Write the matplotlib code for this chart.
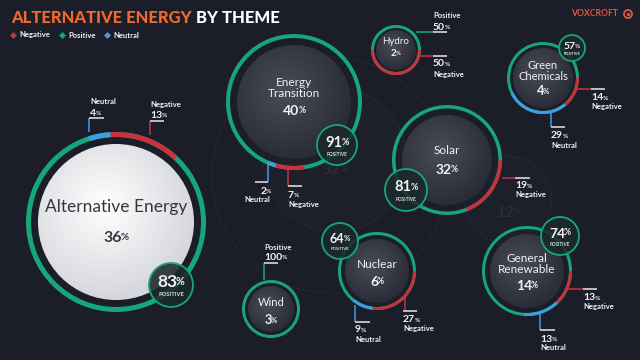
import numpy as np
import matplotlib.pyplot as plt
from matplotlib.patches import Circle, Wedge
from matplotlib.colors import to_rgb

plt.rcParams['font.family'] = ['Lato', 'DejaVu Sans']

# data
themes = ['Alternative Energy', 'Energy Transition', 'Hydro', 'Green Chemicals',
          'Solar', 'General Renewable', 'Nuclear', 'Wind']
share = [36, 40, 2, 4, 32, 14, 6, 3]
positive = [83, 91, 50, 57, 81, 74, 64, 100]
negative = [13, 7, 50, 14, 19, 13, 27, 0]
neutral = [4, 2, 0, 29, 0, 13, 9, 0]
ghost_share = [32, 12]

bg = '#1b1e29'
green = '#16a679'
red = '#c9313d'
blue = '#3b9fe6'
white = '#f2f2f4'
orange = '#f26a2b'

# layout: cx, cy, ring radius, disc radius, ring width, neg start, neu start (deg clockwise from top)
layout = [
    (116, 222, 90, 78, 5.0, -4, -18),
    (294, 102, 68, 57, 4.0, 171, 196),
    (396, 50, 25, 20, 3.0, 90, 0),
    (543, 78, 36, 30, 3.0, 90, 140),
    (447, 160, 55, 45, 3.5, 90, 0),
    (527, 271, 45, 37, 3.0, 90, 137),
    (377, 271, 39, 32, 3.0, 90, 187),
    (271, 309, 29, 23, 3.0, 0, 0),
]
# name y, value y, name size, value size
text_pos = [
    (207, 238, 12.5, 11.5),
    (88, 111, 8.5, 10),
    (42, 53, 7, 7),
    (71, 91, 8, 9),
    (151, 170, 8.5, 10),
    (264, 286, 8.5, 10),
    (265, 282, 8.5, 10),
    (302, 320, 8, 9),
]
# badge x, y, r, fontsize
badges = [(171, 285, 22, 12.5), (337, 145, 20, 10.5), None, (572, 48, 13, 7.5),
          (406, 190, 21, 10.5), (560, 236, 19, 10), (340, 241, 18, 9), None]

# callouts: bubble index, kind, leader (x0,y0,x1,y1), underline (xa, xb), text x, value y, label y, ha
callouts = [
    (0, 'neu', (89, 132, 89, 118), (89, 104), 90, 113, 102, 'left'),
    (0, 'neg', (150, 135, 150, 121), (150, 164), 150, 115, 104, 'left'),
    (1, 'neu', (268, 163, 268, 182), (255, 268), 270, 191, 200, 'right'),
    (1, 'neg', (288, 170, 288, 186), (288, 302), 288, 195, 204, 'left'),
    (2, 'pos', (416, 32, 433, 32), (433, 447), 433, 27, 16, 'left'),
    (2, 'neg', (418, 56, 433, 56), (433, 447), 433, 64, 74, 'left'),
    (3, 'neg', (576, 89, 591, 89), (591, 605), 591, 98, 107, 'left'),
    (3, 'neu', (551, 113, 551, 127), (551, 565), 551, 136, 145, 'left'),
    (4, 'neg', (502, 178, 515, 178), (515, 530), 515, 186, 195, 'left'),
    (5, 'neg', (566, 289, 583, 289), (583, 597), 583, 298, 307, 'left'),
    (5, 'neu', (540, 314, 540, 330), (540, 555), 540, 339, 348, 'left'),
    (6, 'neg', (405, 296, 405, 311), (403, 417), 403, 320, 329, 'left'),
    (6, 'neu', (355, 305, 355, 322), (355, 370), 355, 330, 339, 'left'),
    (7, 'pos', (264, 280, 264, 263), (264, 278), 264, 257, 247, 'left'),
]

fig = plt.figure(figsize=(6.4, 3.6), dpi=100)
fig.patch.set_facecolor(bg)
ax = fig.add_axes([0, 0, 1, 1])
ax.set_facecolor(bg)


def pct(x, y, num, size, color, ha='center', z=6, alpha=1.0):
    shift = size * 0.3 if ha == 'center' else 0
    if ha == 'right':
        shift = size * 0.5
    t = ax.text(x - shift, y, str(num), fontsize=size, color=color, fontweight='bold',
                ha=ha, va='center', zorder=z, alpha=alpha)
    ax.annotate('%', xy=(1, 0.2), xycoords=t, xytext=(-size * 0.07, 0),
                textcoords='offset points', fontsize=size * 0.62, color=color,
                fontweight='bold', ha='left', va='bottom', zorder=z, alpha=alpha)
    return t


def disc(cx, cy, r, c_mid, c_edge, z=3):
    n = 80
    yy, xx = np.mgrid[-1:1:n * 1j, -1:1:n * 1j]
    d = np.clip(np.sqrt((xx + 0.15) ** 2 + (yy + 0.2) ** 2) / 1.2, 0, 1)[..., None]
    img = np.array(to_rgb(c_mid)) * (1 - d) + np.array(to_rgb(c_edge)) * d
    im = ax.imshow(img, extent=(cx - r, cx + r, cy + r, cy - r), zorder=z,
                   interpolation='bilinear')
    clip = Circle((cx, cy), r, transform=ax.transData)
    im.set_clip_path(clip)


def arc(cx, cy, r, w, a1, a2, color, z=3):
    ax.add_patch(Wedge((cx, cy), r, a1 - 90, a2 - 90, width=w, facecolor=color,
                       edgecolor='none', zorder=z))


# ghost bubbles in the background
for (gx, gy, gr, ty), g in zip([(335, 160, 72, 170), (508, 200, 44, 213)], ghost_share):
    ax.add_patch(Circle((gx, gy), gr, facecolor='#1d202b', edgecolor='#242734',
                        lw=0.9, zorder=1))
    pct(gx, ty, g, 11, '#292c3a', z=1.5)
ax.add_patch(Circle((330, 175), 118, facecolor='none', edgecolor='#232633', lw=0.8, zorder=1))

# bubbles
for i, name in enumerate(themes):
    cx, cy, rr, rd, w, neg0, neu0 = layout[i]
    ny, vy, ns, vs = text_pos[i]
    arc(cx, cy, rr, w, 0, 360, green)
    if negative[i]:
        arc(cx, cy, rr, w, neg0, neg0 + negative[i] * 3.6, red, z=3.2)
    if neutral[i]:
        arc(cx, cy, rr, w, neu0, neu0 + neutral[i] * 3.6, blue, z=3.2)
    if i == 0:
        disc(cx, cy, rd, '#ffffff', '#d6d7dc')
        ax.text(cx, ny, name, fontsize=ns, color='#34363f', ha='center', va='center',
                zorder=6)
        pct(cx, vy, share[i], vs, '#34363f')
    else:
        disc(cx, cy, rd, '#4a4c58', '#2a2c37')
        label = name if ' ' not in name else name.replace(' ', '\n')
        ax.text(cx, ny, label, fontsize=ns, color=white, ha='center', va='center',
                linespacing=0.95, zorder=6)
        pct(cx, vy, share[i], vs, white)

    b = badges[i]
    if b:
        bx, by, br, bs = b
        ax.add_patch(Circle((bx, by), br, facecolor='#1c2a2c', alpha=0.88,
                            edgecolor='none', zorder=5))
        ax.add_patch(Circle((bx, by), br, facecolor='none', edgecolor=green,
                            lw=1.3, zorder=5.1))
        pct(bx, by - br * 0.12, positive[i], bs, white, z=6)
        ax.text(bx, by + br * 0.45, 'POSITIVE', fontsize=max(bs * 0.33, 2.8),
                color='#dcdcdc', fontweight='bold', ha='center', va='center', zorder=6)

# callouts
kind_color = {'pos': green, 'neg': red, 'neu': blue}
kind_name = {'pos': 'Positive', 'neg': 'Negative', 'neu': 'Neutral'}
kind_vals = {'pos': positive, 'neg': negative, 'neu': neutral}
for i, kind, (x0, y0, x1, y1), (xa, xb), tx, vy, ly, ha in callouts:
    ax.plot([x0, x1], [y0, y1], color=kind_color[kind], lw=1.1, zorder=4,
            solid_capstyle='butt')
    ax.plot([xa, xb], [y1, y1], color='#d8d8d8', lw=1.2, zorder=4,
            solid_capstyle='butt')
    pct(tx, vy, kind_vals[kind][i], 7.5, white, ha=ha)
    ax.text(tx, ly, kind_name[kind], fontsize=5.5, color=white, fontweight='bold',
            ha=ha, va='center', zorder=6)

# title and legend
t1 = ax.text(11, 18, 'ALTERNATIVE ENERGY', fontsize=12, color=orange,
             fontweight='black', ha='left', va='center')
ax.annotate(' BY THEME', xy=(1, 0), xycoords=t1, fontsize=12, color='white',
            fontweight='black', ha='left', va='bottom')
for lx, lab, col in [(13, 'Negative', red), (62, 'Positive', green), (107, 'Neutral', blue)]:
    ax.plot(lx, 35, marker='D', ms=3.5, color=col, mec='none')
    ax.text(lx + 6, 35, lab, fontsize=5.5, color=white, ha='left', va='center',
            fontweight='bold')

ax.text(595, 14, 'VOXCROFT', fontsize=6.2, color='#e2553f', fontweight='bold',
        ha='center', va='center')
ax.add_patch(Circle((628, 14), 4, facecolor='none', edgecolor='#e2553f', lw=1.3))
ax.plot(628, 14, marker='o', ms=2.5, color='#e2553f', mec='none')

ax.set_xlim(0, 640)
ax.set_ylim(360, 0)
ax.set_aspect('auto')
ax.axis('off')
fig.savefig('out.png', dpi=100, facecolor=bg)
